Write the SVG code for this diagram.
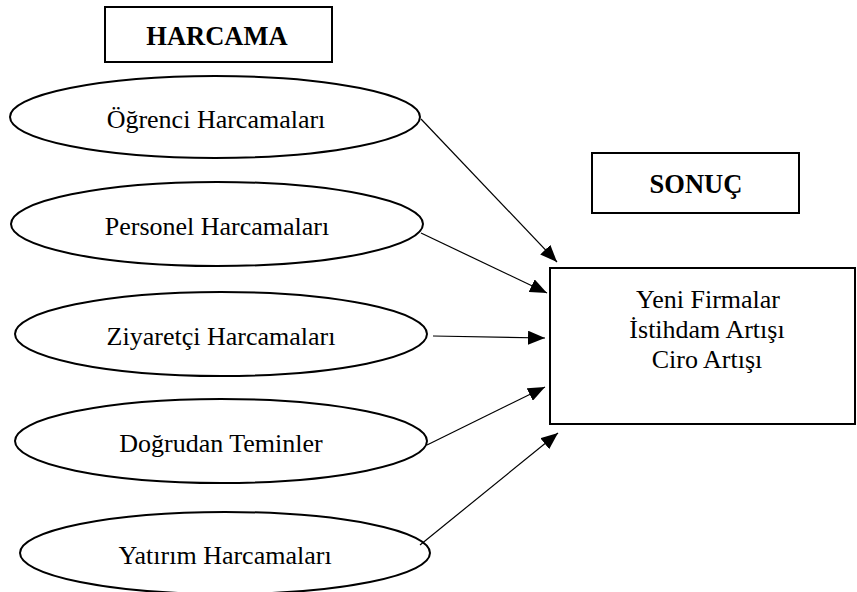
<svg xmlns="http://www.w3.org/2000/svg" width="857" height="592" viewBox="0 0 857 592">
<style>
.box{fill:#fff;stroke:#000;stroke-width:2}
.ell{fill:#fff;stroke:#000;stroke-width:2}
.t{font-family:"Liberation Serif","Times New Roman",serif;font-size:26px;fill:#000;text-anchor:middle}
.h{font-family:"Liberation Serif","Times New Roman",serif;font-size:26.5px;font-weight:bold;fill:#000;text-anchor:middle}
.c{stroke:#000;stroke-width:1.2;fill:none;marker-end:url(#ah)}
</style>
<defs>
<marker id="ah" markerUnits="userSpaceOnUse" markerWidth="17" markerHeight="14" refX="17" refY="7" orient="auto">
<path d="M0,0 L17,7 L0,14 Z" fill="#000"/>
</marker>
</defs>
<rect width="857" height="592" fill="#fff"/>
<g id="harcama"><rect class="box" x="105" y="7" width="227" height="55"/><text class="h" x="217" y="45">HARCAMA</text></g>
<g id="sonuc"><rect class="box" x="592" y="153" width="207" height="60"/><text class="h" x="696" y="193">SONUÇ</text></g>
<g id="ogrenci"><ellipse class="ell" cx="215" cy="117" rx="205" ry="41"/><text class="t" x="216" y="128">Öğrenci Harcamaları</text></g>
<g id="personel"><ellipse class="ell" cx="217" cy="224" rx="206" ry="42"/><text class="t" x="217" y="235">Personel Harcamaları</text></g>
<g id="ziyaretci"><ellipse class="ell" cx="221" cy="334" rx="206" ry="42"/><text class="t" x="221" y="345">Ziyaretçi Harcamaları</text></g>
<g id="dogrudan"><ellipse class="ell" cx="221" cy="441" rx="206" ry="42"/><text class="t" x="221" y="452">Doğrudan Teminler</text></g>
<g id="yatirim"><ellipse class="ell" cx="225" cy="553" rx="205" ry="41"/><text class="t" x="225" y="564">Yatırım Harcamaları</text></g>
<g id="result"><rect class="box" x="550" y="268" width="305" height="156"/>
<text class="t" x="708" y="308">Yeni Firmalar</text>
<text class="t" x="707" y="338">İstihdam Artışı</text>
<text class="t" x="707" y="368">Ciro Artışı</text></g>
<g id="connectors">
<line class="c" x1="421" y1="119" x2="557" y2="262"/>
<line class="c" x1="421" y1="233" x2="547" y2="293"/>
<line class="c" x1="433" y1="336" x2="545" y2="338"/>
<line class="c" x1="427" y1="445" x2="545" y2="387"/>
<line class="c" x1="420" y1="545" x2="558" y2="433"/>
</g>
</svg>
